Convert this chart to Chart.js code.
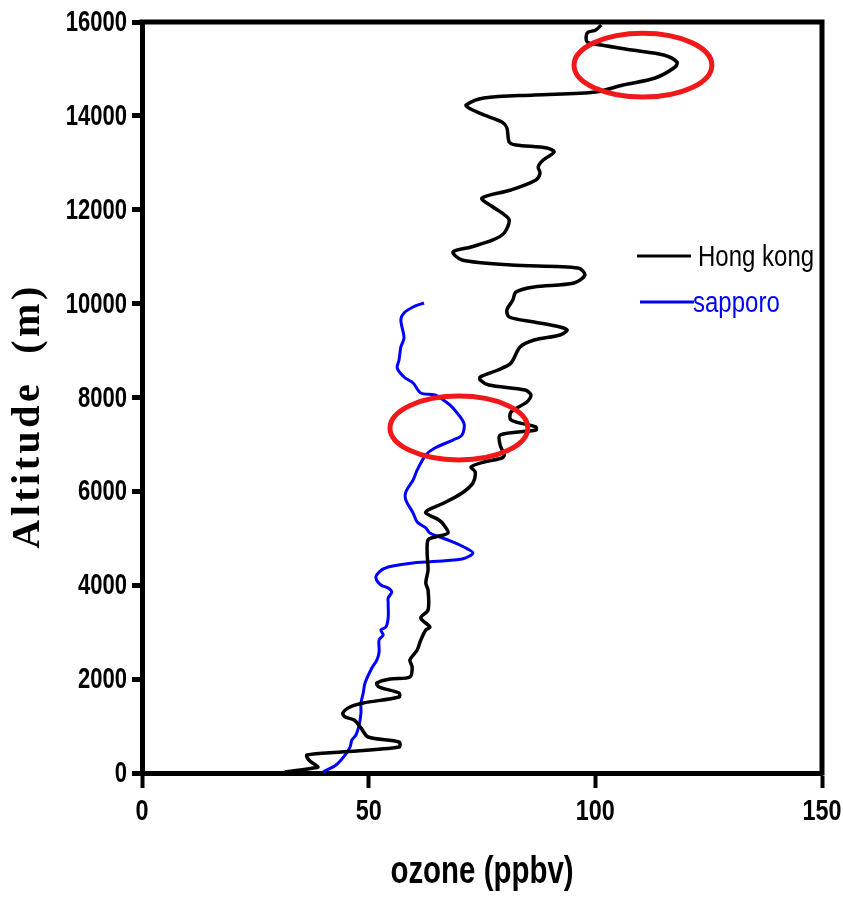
<!DOCTYPE html>
<html>
<head>
<meta charset="utf-8">
<script src="https://cdn.jsdelivr.net/npm/chart.js@4.4.1/dist/chart.umd.min.js"></script>
<style>
  html, body { margin: 0; padding: 0; background: #fff; }
  canvas { display: block; }
</style>
</head>
<body>
<canvas id="myChart" width="843" height="898"></canvas>
<script>
// ozone profiles (ozone in ppbv, altitude in m)
const hkOzone = [31.5, 37.9, 38.8, 36.8, 36.4, 43.9, 56.7, 56.7, 49.9, 48.3, 46.8, 44.8, 44.3, 45.9, 48.8, 56.7, 56.7, 52.3, 51.8, 54.7,
  59.1, 59.6, 59.1, 60.7, 61.5, 62.6, 63.5, 61.5, 63.1, 63.1, 62.6, 63.1, 62.9, 63.1, 64.6, 67.5, 66.6, 65.5, 62.6, 63.1,
  66.6, 70.6, 73.0, 73.5, 72.6, 75.4, 79.4, 79.9, 79.0, 79.0, 86.9, 86.9, 81.4, 81.4, 84.9, 85.8, 84.5, 76.5, 74.6, 74.6,
  78.5, 81.4, 83.4, 86.5, 92.2, 93.8, 92.2, 86.5, 81.0, 80.5, 81.8, 82.5, 86.5, 95.3, 97.7, 96.2, 81.4, 70.6, 68.6, 72.6,
  77.4, 79.9, 81.0, 79.4, 77.4, 75.0, 81.4, 86.9, 87.8, 87.4, 88.5, 90.9, 89.3, 82.5, 81.0, 80.5, 79.4, 75.4, 72.1, 71.5,
  75.4, 86.5, 100.1, 106.1, 113.2, 117.6, 118.0, 115.1, 108.1, 101.3, 98.2, 98.2, 100.1, 101.3];
const hkAltitude = [20, 107, 128, 277, 383, 447, 554, 660, 767, 959, 1130, 1193, 1278, 1406, 1491, 1619, 1704, 1832, 1917, 2003,
  2045, 2258, 2407, 2620, 2834, 3047, 3110, 3302, 3473, 3899, 4048, 4325, 4687, 4964, 5028, 5113, 5284, 5390, 5539, 5603,
  5752, 5965, 6178, 6413, 6519, 6626, 6711, 6775, 6988, 7201, 7308, 7372, 7521, 7691, 7904, 8053, 8160, 8266, 8373, 8437,
  8586, 8735, 9076, 9225, 9332, 9438, 9502, 9609, 9715, 9864, 10077, 10248, 10354, 10439, 10610, 10760, 10823, 10929, 11100, 11206,
  11356, 11505, 11782, 11931, 12059, 12250, 12421, 12634, 12783, 12911, 13060, 13230, 13316, 13380, 13443, 13742, 13870, 14019, 14168, 14232,
  14381, 14445, 14509, 14658, 14807, 15041, 15148, 15297, 15403, 15510, 15574, 15766, 15830, 15936];

const spOzone = [39.9, 42.8, 44.8, 45.9, 46.3, 47.2, 47.9, 48.3, 48.3, 48.8, 49.2, 50.7, 51.8, 52.3, 52.3, 53.2, 52.7, 53.8, 54.3, 54.3,
  54.3, 55.1, 54.3, 52.7, 51.6, 52.3, 54.3, 59.8, 70.6, 73.0, 71.0, 67.5, 63.5, 62.6, 60.7, 59.8, 58.2, 58.2, 59.8, 60.7,
  62.6, 64.6, 68.6, 70.6, 71.0, 68.6, 67.1, 64.6, 61.5, 59.8, 57.8, 56.3, 56.7, 57.1, 57.8, 57.1, 57.8, 59.8, 62.2];
const spAltitude = [21, 170, 383, 554, 703, 810, 1023, 1278, 1491, 1704, 1917, 2237, 2407, 2578, 2834, 2940, 3047, 3110, 3302, 3622,
  3728, 3856, 3941, 4005, 4154, 4282, 4389, 4474, 4559, 4687, 4815, 4964, 5113, 5220, 5348, 5539, 5816, 5987, 6242, 6455,
  6775, 6924, 7094, 7201, 7457, 7776, 7904, 8053, 8096, 8309, 8437, 8629, 8799, 9076, 9268, 9651, 9800, 9928, 10013];

const seriesNames = ['Hong kong', 'sapporo'];
const seriesColors = ['#000000', '#0000ff'];
const xTicks = [0, 50, 100, 150];
const yTicks = [0, 2000, 4000, 6000, 8000, 10000, 12000, 14000, 16000];
const xTitle = 'ozone (ppbv)';
const yTitle = 'Altitude  (m)';

// red circles drawn on the figure (centre ozone, centre altitude, half width ppbv, half height m)
const circleOzone = [110.5, 69.9];
const circleAltitude = [15080, 7350];
const circleRx = 15.2;
const circleRy = 680;

const zip = (xs, ys) => xs.map((x, i) => ({ x: x, y: ys[i] }));

const sans = "'Liberation Sans', Arial, sans-serif";

// narrow-looking text: squeeze a normal font sideways
function squeezed(ctx, text, x, y, font, sx, align, color) {
  ctx.save();
  ctx.font = font;
  ctx.fillStyle = color;
  ctx.textBaseline = 'middle';
  ctx.textAlign = align;
  ctx.translate(x, y);
  ctx.scale(sx, 1);
  ctx.fillText(text, 0, 0);
  ctx.restore();
}

// top and right side of the box
const framePlugin = {
  id: 'frame',
  afterDraw(chart) {
    const { ctx, chartArea: a } = chart;
    ctx.save();
    ctx.strokeStyle = '#000';
    ctx.lineWidth = 5;
    ctx.beginPath();
    ctx.moveTo(a.left - 2.5, a.top);
    ctx.lineTo(a.right, a.top);
    ctx.lineTo(a.right, a.bottom + 2.5);
    ctx.stroke();
    ctx.restore();
  }
};

const circlePlugin = {
  id: 'circles',
  afterDatasetsDraw(chart) {
    const { ctx, scales } = chart;
    ctx.save();
    ctx.strokeStyle = '#f01818';
    ctx.lineWidth = 5;
    circleOzone.forEach((oz, i) => {
      const cx = scales.x.getPixelForValue(oz);
      const cy = scales.y.getPixelForValue(circleAltitude[i]);
      const rx = scales.x.getPixelForValue(oz + circleRx) - cx;
      const ry = cy - scales.y.getPixelForValue(circleAltitude[i] + circleRy);
      ctx.beginPath();
      ctx.ellipse(cx, cy, rx, ry, 0, 0, Math.PI * 2);
      ctx.stroke();
    });
    ctx.restore();
  }
};

// tick labels, axis titles and the legend inside the plot
const textPlugin = {
  id: 'texts',
  afterDraw(chart) {
    const { ctx, chartArea: a, scales } = chart;
    xTicks.forEach(v => {
      squeezed(ctx, String(v), scales.x.getPixelForValue(v), a.bottom + 39, 'bold 30px ' + sans, 0.78, 'center', '#000');
    });
    yTicks.forEach(v => {
      squeezed(ctx, String(v), a.left - 15, scales.y.getPixelForValue(v) + 1, 'bold 29px ' + sans, 0.76, 'right', '#000');
    });
    squeezed(ctx, xTitle, (a.left + a.right) / 2, a.bottom + 100, 'bold 38px ' + sans, 0.775, 'center', '#000');

    ctx.save();
    ctx.translate(29, 416);
    ctx.rotate(-Math.PI / 2);
    ctx.font = "bold 40px 'Liberation Serif', 'Times New Roman', serif";
    ctx.letterSpacing = '3.5px';
    ctx.fillStyle = '#000';
    ctx.textAlign = 'center';
    ctx.textBaseline = 'middle';
    ctx.fillText(yTitle, 0, 0);
    ctx.restore();

    const rows = [{ y: a.top + 234, lx: a.right - 185, tx: a.right - 124 }, { y: a.top + 280, lx: a.right - 182, tx: a.right - 129 }];
    rows.forEach((r, i) => {
      ctx.save();
      ctx.strokeStyle = seriesColors[i];
      ctx.lineWidth = 3;
      ctx.beginPath();
      ctx.moveTo(r.lx, r.y);
      ctx.lineTo(r.lx + 54, r.y);
      ctx.stroke();
      ctx.restore();
      squeezed(ctx, seriesNames[i], r.tx, r.y + 2, '30px ' + sans, 0.8, 'left', seriesColors[i]);
    });
  }
};

const ctx = document.getElementById('myChart').getContext('2d');

let myChart = new Chart(ctx, {
  type: 'scatter',
  data: {
    datasets: [{
      label: seriesNames[0],
      data: zip(hkOzone, hkAltitude),
      showLine: true,
      borderColor: seriesColors[0],
      borderWidth: 3.5,
      pointRadius: 0,
      tension: 0.3
    }, {
      label: seriesNames[1],
      data: zip(spOzone, spAltitude),
      showLine: true,
      borderColor: seriesColors[1],
      borderWidth: 3,
      pointRadius: 0,
      tension: 0.3
    }]
  },
  options: {
    responsive: false,
    animation: false,
    layout: { padding: { top: 22, right: 21, left: 0, bottom: 0 } },
    plugins: {
      legend: { display: false },
      tooltip: { enabled: false }
    },
    scales: {
      x: {
        type: 'linear',
        min: 0,
        max: 150,
        afterBuildTicks: s => { s.ticks = xTicks.map(v => ({ value: v })); },
        afterFit: s => { s.height = 125; s.paddingLeft = 0; s.paddingRight = 0; },
        ticks: { display: false },
        grid: { drawOnChartArea: false, color: '#000', tickLength: 15, tickWidth: 4 },
        border: { color: '#000', width: 5 }
      },
      y: {
        type: 'linear',
        min: 0,
        max: 16000,
        afterBuildTicks: s => { s.ticks = yTicks.map(v => ({ value: v })); },
        afterFit: s => { s.width = 142; s.paddingTop = 0; s.paddingBottom = 0; },
        ticks: { display: false },
        grid: { drawOnChartArea: false, color: '#000', tickLength: 10, tickWidth: 5 },
        border: { color: '#000', width: 5 }
      }
    }
  },
  plugins: [framePlugin, circlePlugin, textPlugin]
});
</script>
</body>
</html>
